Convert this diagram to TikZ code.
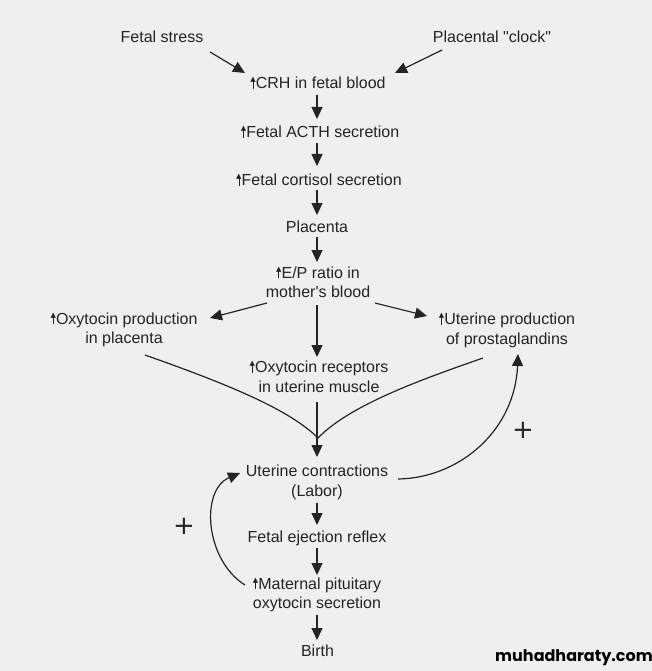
\documentclass[tikz,border=0pt]{standalone}
\usepackage{fontspec}
\setmainfont{Liberation Sans}[Ligatures=TeXOff]
\newfontfamily\dejavu{DejaVu Sans}
\newfontfamily\wmfont{Poppins}
\usetikzlibrary{arrows.meta,calc}
\definecolor{bg}{RGB}{240,239,240}
\definecolor{ink}{RGB}{36,36,36}
\newcommand\upar{\mbox{\rlap{\hspace{2.3pt}\rule{0.95pt}{9pt}}\raisebox{7pt}{\dejavu\fontsize{7pt}{7pt}\selectfont ▲}}\hspace{0.1pt}}
\begin{document}
\begin{tikzpicture}[x=1pt,y=-1pt,
  every node/.style={font=\fontsize{16}{19.5}\selectfont, text=ink, inner sep=0pt, align=center},
  arr/.style={draw=ink, line width=1.2pt, -{Triangle[width=11pt,length=12pt]}},
  ln/.style={draw=ink, line width=1.2pt}]
\fill[bg] (0,0) rectangle (652,671);
\useasboundingbox (0,0) rectangle (652,671);
\coordinate (sp) at (317,0);
\node (stress) at (162,37) {Fetal stress};
\node (clock) at (492,37) {Placental "clock"};
\node (crh) at (318,83) {\upar CRH in fetal blood};
\node (acth) at (320,132) {\upar Fetal ACTH secretion};
\node (cort) at (319,180) {\upar Fetal cortisol secretion};
\node (plac) at (317,227) {Placenta};
\node (ep) at (318,282.5) {\upar E/P ratio in\\mother's blood};
\node (oxyp) at (124,330) {\upar Oxytocin production\\in placenta};
\node (prost) at (507,330.5) {\upar Uterine production\\of prostaglandins};
\node (rec) at (319,377) {\upar Oxytocin receptors\\in uterine muscle};
\node (uc) at (317,482.5) {Uterine contractions\\(Labor)};
\node (fer) at (317,538) {Fetal ejection reflex};
\node (mat) at (317,595) {\upar Maternal pituitary\\oxytocin secretion};
\node (birth) at (317.5,651) {Birth};
\node[text=black] (wm) at (574,658) {\wmfont\bfseries muhadharaty.com};
\node (p1) at (184,526) {\dejavu\fontsize{26}{26}\selectfont +};
\node (p2) at (523,430) {\dejavu\fontsize{26}{26}\selectfont +};
\coordinate (merge) at (318,438);
% inputs
\draw[arr] ($(stress)+(48,15)$) -- ($(crh)+(-73,-10)$);
\draw[arr] ($(clock)+(-50,13)$) -- ($(crh)+(77,-10)$);
% spine
\draw[arr] ($(sp |- crh)+(0,12)$) -- ($(sp |- acth)+(0,-13)$);
\draw[arr] ($(sp |- acth)+(0,11)$) -- ($(sp |- cort)+(0,-14)$);
\draw[arr] ($(sp |- cort)+(0,10)$) -- ($(sp |- plac)+(0,-12)$);
\draw[arr] ($(sp |- plac)+(0,10)$) -- ($(sp |- ep)+(0,-20.5)$);
\draw[arr] ($(sp |- ep)+(0,22.5)$) -- ($(sp |- rec)+(0,-20)$);
\draw[arr] ($(sp |- rec)+(0,25)$) -- ($(sp |- uc)+(0,-25.5)$);
\draw[arr] ($(sp |- uc)+(0,20.5)$) -- ($(sp |- fer)+(0,-13)$);
\draw[arr] ($(sp |- fer)+(0,10)$) -- ($(sp |- mat)+(0,-20)$);
\draw[arr] ($(sp |- mat)+(0,20)$) -- ($(sp |- birth)+(0,-11)$);
% branches
\draw[arr] ($(ep)+(-51,20.5)$) -- ($(oxyp)+(86,-12)$);
\draw[arr] ($(ep)+(57,20.5)$) -- ($(prost)+(-80,-14.5)$);
\draw[ln] ($(oxyp)+(21,25)$) .. controls (230,385) and (290,410) .. (merge);
\draw[ln] ($(prost)+(-24,27.5)$) .. controls (420,380) and (350,405) .. (merge);
% feedback loops
\draw[arr] ($(uc)+(81,-3.5)$) .. controls (460,478) and (515,430) .. ($(prost)+(11,23.5)$);
\draw[arr] ($(mat)+(-72,-10)$) .. controls (205,560) and (200,490) .. ($(uc)+(-77,-9.5)$);
\end{tikzpicture}
\end{document}
